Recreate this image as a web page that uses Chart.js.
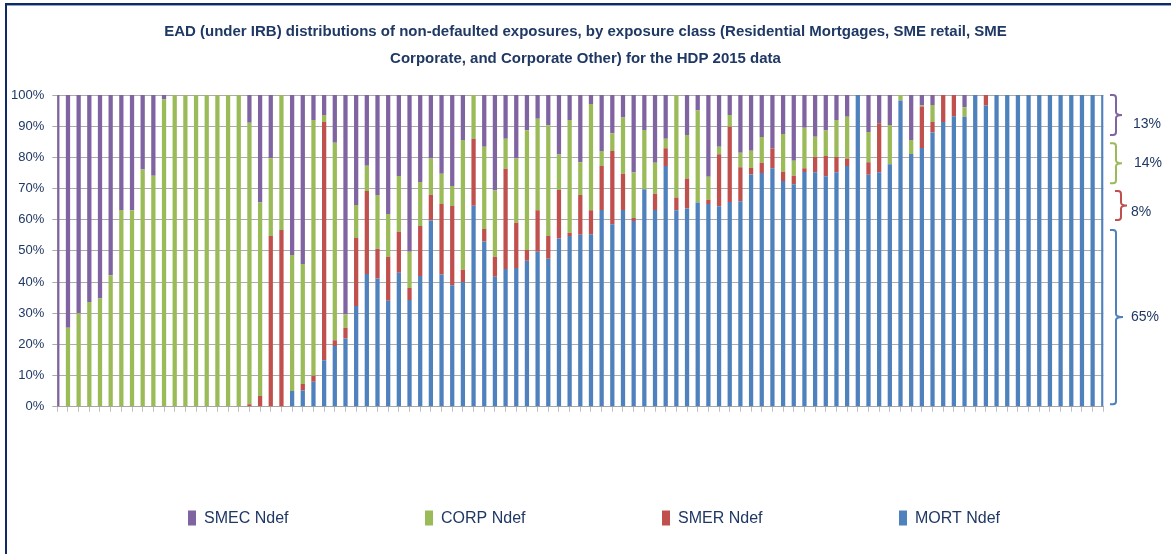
<!DOCTYPE html>
<html><head><meta charset="utf-8">
<script src="https://cdn.jsdelivr.net/npm/chart.js@4/dist/chart.umd.min.js"></script>
<style>html,body{margin:0;padding:0;background:#fff;}canvas{display:block;}</style>
</head><body>
<canvas id="c" width="1171" height="554"></canvas>
<script>
// ---------- data ----------
const categories = ['1','2','3','4','5','6','7','8','9','10','11','12','13','14','15','16','17','18','19','20',
'21','22','23','24','25','26','27','28','29','30','31','32','33','34','35','36','37','38','39','40',
'41','42','43','44','45','46','47','48','49','50','51','52','53','54','55','56','57','58','59','60',
'61','62','63','64','65','66','67','68','69','70','71','72','73','74','75','76','77','78','79','80',
'81','82','83','84','85','86','87','88','89','90','91','92','93','94','95','96','97','98','99'];

const mortNdef = [0,0,0,0,0,0,0,0,0,0,0,0,0,0,0,0,0,0,0,0,
0,0,5,5.2,8,14.9,19.5,21.9,32.3,42.6,41.1,34,43,34.2,41.9,59.7,42.4,39,40,64.5,
53,41.7,44.2,44.5,46.8,49.7,47.5,54,54.8,55.2,55.3,63.1,58.5,63.1,59.6,69.8,63.1,77.2,63,63.6,
65.5,65,64.3,65.7,65.9,74.5,75,76.5,72.4,71.4,75.3,75.2,73.9,75.2,77.2,100,74.4,75.2,77.8,98.2,
81.1,83,88,91.3,93.2,93,100,96.6,100,100,100,100,100,100,100,100,100,100,100];

const smerNdef = [0,0,0,0,0,0,0,0,0,0,0,0,0,0,0,0,0,0,0.8,3.4,
54.8,56.7,0,2.1,1.9,76.4,1.8,3.4,21.8,26.6,9.6,14,13.1,3.9,16.1,8.3,22.6,25.4,3.9,21.5,
4,6.4,32.1,14.5,3.5,13.3,7.3,15.5,1,12.7,7.7,14.1,23.5,11.6,0.9,0,5.2,5.7,4.1,9.6,
0,1.4,16.7,24.1,10.9,2.1,3.3,6.3,3,2.7,1.2,5,6.5,4.9,2.4,0,4,15.7,0,0,
0,13.3,3.3,8.7,6.8,0,0,3.4,0,0,0,0,0,0,0,0,0,0,0];

const corpNdef = [0,25.3,30,33.6,34.7,42.2,63.1,63,76.1,74.1,98.6,100,100,100,100,100,100,100,90.3,62.1,
24.9,43.3,43.7,38.5,82.1,2.3,63.4,4.3,10.6,8.1,17.2,13.8,17.9,11.6,14.1,11.6,9.7,6.4,41.7,14,
26.4,21.3,9.7,20.6,38.4,29.4,35.5,11.4,36.2,10.5,34.1,4.8,5.7,18.1,14.6,19,10,3.1,32.9,14,
29.5,7.4,2.4,3.8,4.7,5.5,8.2,0,12.1,4.8,13,6.4,8.2,11.9,13.4,0,9.7,0,12.6,1.8,
4.5,0.3,5.5,0,0,3.1,0,0,0,0,0,0,0,0,0,0,0,0,0];

const smecNdef = [100,74.7,70,66.4,65.3,57.8,36.9,37,23.9,25.9,1.4,0,0,0,0,0,0,0,8.9,34.5,
20.3,0,51.3,54.2,8,6.4,15.3,70.4,35.3,22.7,32.1,38.2,26,50.3,27.9,20.4,25.3,29.2,14.4,0,
16.6,30.6,14,20.4,11.3,7.6,9.7,19.1,8,21.6,2.9,18,12.3,7.2,24.9,11.2,21.7,14,0,12.8,
5,26.2,16.6,6.4,18.5,17.9,13.5,17.2,12.5,21.1,10.5,13.4,11.4,8,7,0,11.9,9.1,9.6,0,
14.4,3.4,3.2,0,0,3.9,0,0,0,0,0,0,0,0,0,0,0,0,0];

const seriesNames = ['MORT Ndef','SMER Ndef','CORP Ndef','SMEC Ndef'];
const yTickLabels = ['0%','10%','20%','30%','40%','50%','60%','70%','80%','90%','100%'];
const titleLines = ['EAD (under IRB) distributions of non-defaulted exposures, by exposure class (Residential Mortgages, SME retail, SME',
                    'Corporate, and Corporate Other) for the HDP 2015 data'];
const bracketLabels = ['13%','14%','8%','65%'];
const bracketFrom = [87.2, 71.7, 59.9, 0.8];
const bracketTo   = [100, 84.5, 69.2, 56.7];

// ---------- styling ----------
const NAVY = '#1F3864';
const FONT = "'Liberation Sans', Arial, sans-serif";
const COLORS = ['#4F81BD', '#C0504D', '#9BBB59', '#8064A2'];
const bracketStyle = [
  {color:'#8064A2', spine:1116, tip:1122, labelX:1147},
  {color:'#9BBB59', spine:1116, tip:1122, labelX:1148},
  {color:'#C0504D', spine:1121, tip:1127, labelX:1141},
  {color:'#4F81BD', spine:1116, tip:1123, labelX:1145}
];

const seriesValues = [mortNdef, smerNdef, corpNdef, smecNdef];
const datasets = seriesNames.map((name, k) => ({
  label: name,
  data: seriesValues[k],
  backgroundColor: COLORS[k],
  borderWidth: 0,
  categoryPercentage: 1,
  barPercentage: 0.4,
  clip: 0
}));

const framePlugin = {
  id: 'frame',
  beforeDraw(chart) {
    const ctx = chart.ctx;
    ctx.save();
    ctx.fillStyle = '#ffffff';
    ctx.fillRect(0, 0, chart.width, chart.height);
    ctx.fillStyle = '#0F2A6A';
    ctx.fillRect(5, 3, chart.width - 5, 2);
    ctx.fillRect(5, 3, 2, chart.height - 3);
    ctx.fillStyle = '#8FA3C8';
    ctx.fillRect(7, 5, chart.width - 7, 1);
    ctx.restore();
  }
};

const bracketPlugin = {
  id: 'brackets',
  afterDraw(chart) {
    const ctx = chart.ctx, y = chart.scales.y;
    ctx.save();
    bracketLabels.forEach((lab, i) => {
      const st = bracketStyle[i];
      const top = y.getPixelForValue(bracketTo[i]);
      const bot = y.getPixelForValue(bracketFrom[i]);
      const mid = (top + bot) / 2;
      const r = 3, x0 = st.spine - 6, xs = st.spine;
      ctx.strokeStyle = st.color;
      ctx.lineWidth = 2;
      ctx.beginPath();
      ctx.moveTo(x0, top);
      ctx.lineTo(xs - r, top);
      ctx.quadraticCurveTo(xs, top, xs, top + r);
      ctx.lineTo(xs, mid - r);
      ctx.quadraticCurveTo(xs, mid, st.tip, mid);
      ctx.quadraticCurveTo(xs, mid, xs, mid + r);
      ctx.lineTo(xs, bot - r);
      ctx.quadraticCurveTo(xs, bot, xs - r, bot);
      ctx.lineTo(x0, bot);
      ctx.stroke();
      ctx.fillStyle = NAVY;
      ctx.font = '14px ' + FONT;
      ctx.textAlign = 'center';
      ctx.textBaseline = 'middle';
      const ly = i === 0 ? mid + 9 : (i === 2 ? mid + 7 : mid);
      ctx.fillText(lab, st.labelX, ly);
    });
    ctx.restore();
  }
};

const legendLayout = {y: 518, startX: 188, step: 237, boxW: 8, boxH: 15, gap: 8};
const legendPlugin = {
  id: 'wideLegend',
  afterDraw(chart) {
    const ctx = chart.ctx;
    ctx.save();
    ctx.font = '16px ' + FONT;
    ctx.textBaseline = 'middle';
    ctx.textAlign = 'left';
    const order = chart.data.datasets.map((d, i) => i).reverse();
    order.forEach((di, n) => {
      const ds = chart.data.datasets[di];
      const x = legendLayout.startX + n * legendLayout.step;
      ctx.fillStyle = ds.backgroundColor;
      ctx.fillRect(x, legendLayout.y - legendLayout.boxH / 2, legendLayout.boxW, legendLayout.boxH);
      ctx.fillStyle = NAVY;
      ctx.fillText(ds.label, x + legendLayout.boxW + legendLayout.gap, legendLayout.y + 1);
    });
    ctx.restore();
  }
};

new Chart(document.getElementById('c'), {
  type: 'bar',
  data: { labels: categories, datasets },
  options: {
    responsive: false,
    animation: false,
    devicePixelRatio: 1,
    layout: { padding: { left: 0, right: 0, top: 0, bottom: 142.3 } },
    plugins: {
      legend: { display: false },
      tooltip: { enabled: false },
      title: {
        display: true,
        text: titleLines,
        color: NAVY,
        font: { family: FONT, size: 15, weight: 'bold', lineHeight: 1.8 },
        padding: { top: 18, bottom: 23 }
      }
    },
    scales: {
      x: {
        stacked: true,
        offset: false,
        grid: { display: true, offset: false, drawOnChartArea: false, drawTicks: true, tickLength: 5, color: '#BFBFBF' },
        border: { display: true, color: '#A6A6A6' },
        ticks: { display: false }
      },
      y: {
        stacked: true,
        min: 0, max: 100,
        afterFit(scale) { scale.width = 57.3; },
        ticks: {
          stepSize: 10,
          color: NAVY,
          padding: 8,
          font: { family: FONT, size: 13 },
          callback: (v, i) => yTickLabels[i]
        },
        grid: { color: '#ABABAB', tickLength: 5 },
        border: { display: true, color: '#A6A6A6' }
      },
      ySpace: {
        position: 'right',
        min: 0, max: 100,
        afterFit(scale) { scale.width = 67.7; },
        ticks: { display: false },
        grid: { display: false, drawOnChartArea: false, drawTicks: false },
        border: { display: false }
      }
    }
  },
  plugins: [framePlugin, bracketPlugin, legendPlugin]
});
</script>
</body></html>
